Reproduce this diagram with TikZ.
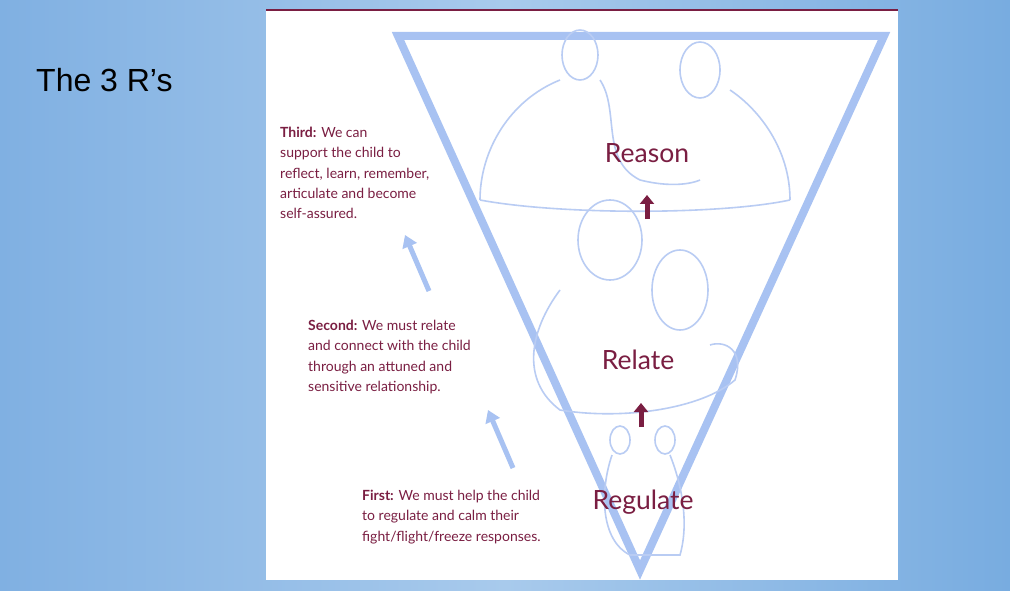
\documentclass[tikz,border=0pt]{standalone}
\usepackage{fontspec}
\setmainfont{Lato}
\newfontfamily\titlefont{Liberation Sans}
\usetikzlibrary{arrows.meta}
\definecolor{dred}{HTML}{7A1E42}
\definecolor{lblue}{HTML}{A8C2F2}
\definecolor{fig}{HTML}{B9CCF3}
\tikzset{
  body/.style={font=\fontsize{14}{20.3}\selectfont, text=dred, align=left, anchor=north west, inner sep=0},
  big/.style={font=\fontsize{26.5}{28}\selectfont, text=dred},
  uparrow/.style={-{Triangle[length=9pt,width=14pt]}, line width=5pt, dred},
  bluearrow/.style={-{Triangle[length=12pt,width=15pt]}, line width=5pt, lblue},
  figline/.style={fig, line width=1.6pt}
}
\begin{document}
\begin{tikzpicture}[x=1pt,y=-1pt]
\useasboundingbox (0,0) rectangle (1010,591);
\shade[left color={rgb,255:red,128;green,176;blue,226}, right color={rgb,255:red,120;green,172;blue,224}, middle color={rgb,255:red,168;green,202;blue,236}] (0,0) rectangle (1010,591);
\fill[white] (266,10) rectangle (898,580);
\draw[dred, line width=1.5pt] (266,10) -- (898,10);
\node[font=\titlefont\fontsize{32}{36}\selectfont, anchor=west, inner sep=0] (title) at (36,80) {The 3 R’s};
% triangle
\draw[lblue, line width=8pt, line join=miter] (398,36) -- (884,36) -- (640,570) -- cycle;
% figures (simplified)
\draw[figline] (580,55) ellipse (18 and 25);
\draw[figline] (700,70) ellipse (20 and 28);
\draw[figline] (560,80) .. controls (510,100) and (480,150) .. (480,200);
\draw[figline] (600,80) .. controls (620,110) and (600,160) .. (640,180) .. controls (680,190) and (700,180) .. (700,180);
\draw[figline] (730,90) .. controls (760,110) and (790,150) .. (790,200);
\draw[figline] (480,200) .. controls (560,215) and (720,215) .. (790,200);
\draw[figline] (610,240) ellipse (32 and 40);
\draw[figline] (680,290) ellipse (28 and 40);
\draw[figline] (560,290) .. controls (530,330) and (520,380) .. (560,410) .. controls (620,420) and (700,410) .. (735,380) .. controls (745,350) and (725,340) .. (710,345);
\draw[figline] (620,440) ellipse (10 and 14);
\draw[figline] (665,440) ellipse (10 and 14);
\draw[figline] (612,455) .. controls (600,490) and (600,540) .. (630,555) -- (680,555) .. controls (690,520) and (680,480) .. (670,455);
% labels
\node[big] (reason) at (647,153) {Reason};
\node[big] (relate) at (638,360) {Relate};
\node[big] (regulate) at (643,502) {Regulate};
\coordinate (a1s) at (647,219); \coordinate (a1e) at (647,195);
\draw[uparrow] (a1s) -- (a1e);
\coordinate (a2s) at (641,427); \coordinate (a2e) at (641,403);
\draw[uparrow] (a2s) -- (a2e);
\coordinate (b1s) at (429,291); \coordinate (b1e) at (405,235);
\draw[bluearrow] (b1s) -- (b1e);
\coordinate (b2s) at (513,468); \coordinate (b2e) at (488,410);
\draw[bluearrow] (b2s) -- (b2e);
\node[body] (third) at (280,127) {\textbf{Third:} We can\\support the child to\\reflect, learn, remember,\\articulate and become\\self-assured.};
\node[body] (second) at (308,320) {\textbf{Second:} We must relate\\and connect with the child\\through an attuned and\\sensitive relationship.};
\node[body] (first) at (362,490) {\textbf{First:} We must help the child\\to regulate and calm their\\fight/flight/freeze responses.};
\end{tikzpicture}
\end{document}
